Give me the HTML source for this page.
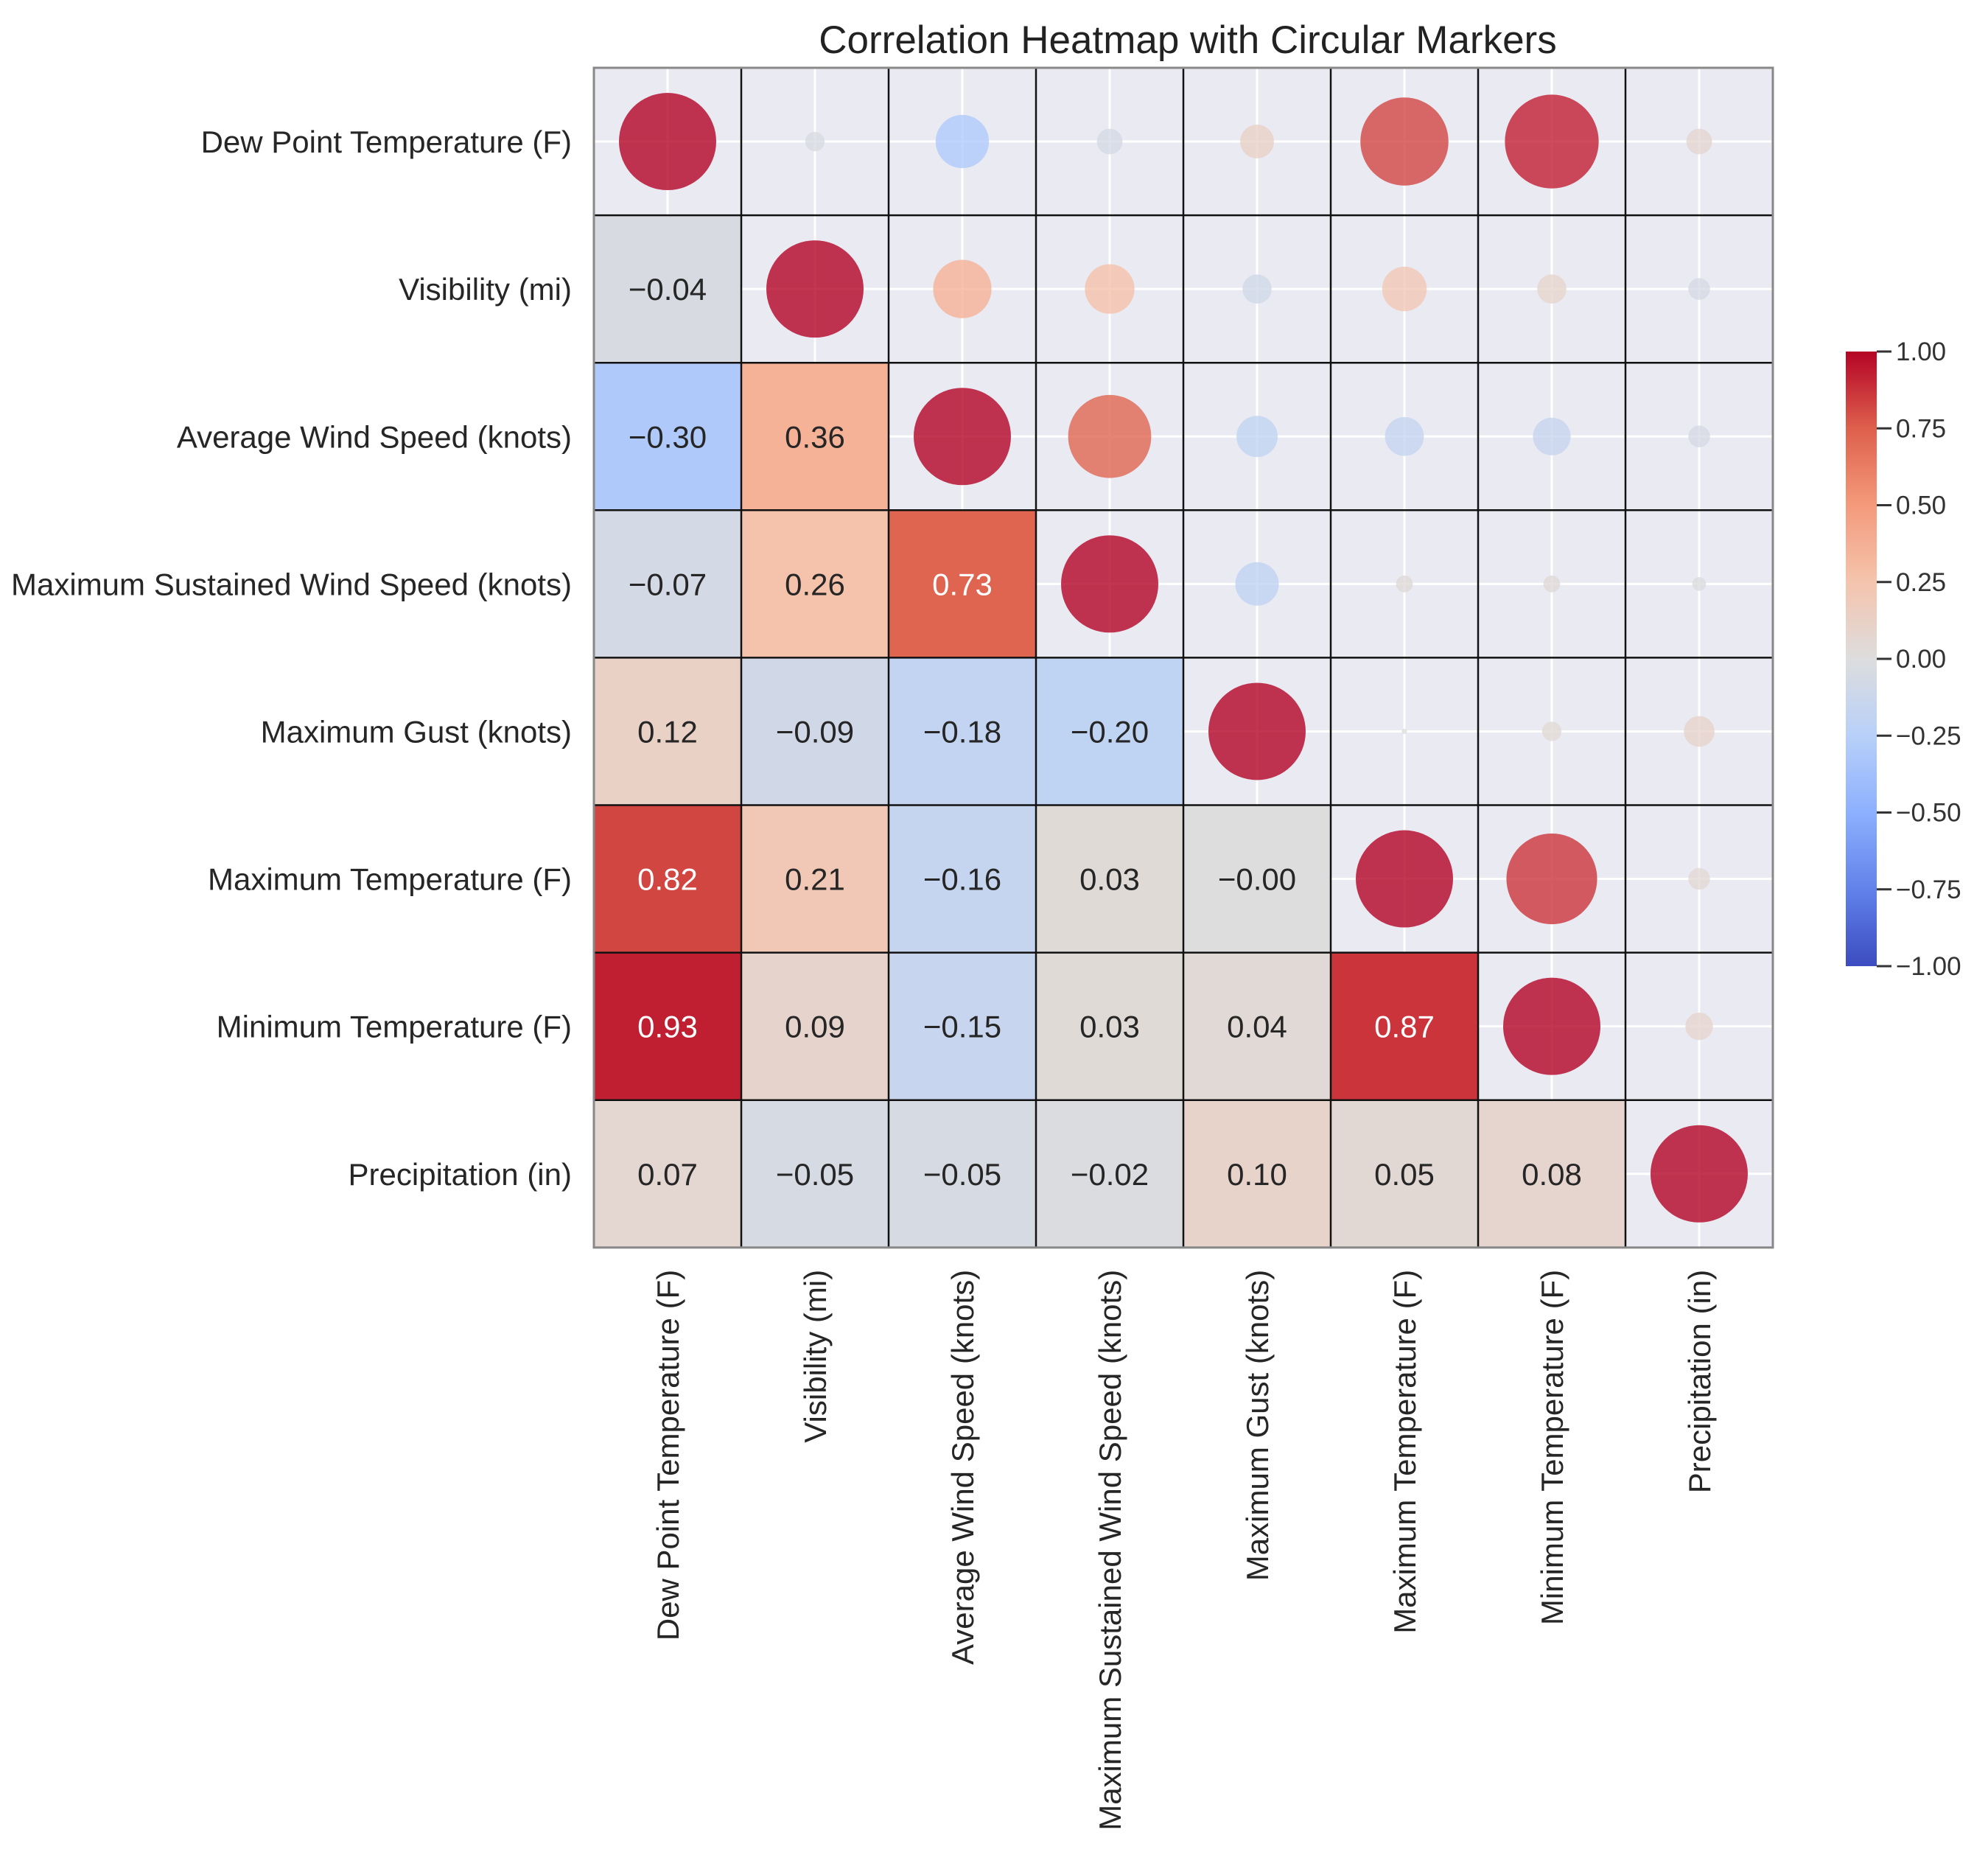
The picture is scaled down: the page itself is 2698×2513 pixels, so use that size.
<!DOCTYPE html>
<html><head><meta charset="utf-8"><style>
html,body{margin:0;padding:0;background:#fff;}
svg{display:block;font-family:"Liberation Sans",Arial,sans-serif;}
</style></head><body>
<svg id="chart" width="2698" height="2513" viewBox="0 0 2698 2513" xmlns="http://www.w3.org/2000/svg">
<rect width="2698" height="2513" fill="#fff"/>
<text x="1612" y="72" font-size="53" text-anchor="middle" fill="#222">Correlation Heatmap with Circular Markers</text>
<g id="plot"></g>
<g id="cbar"></g>
</svg>
<script>
const labels = ["Dew Point Temperature (F)","Visibility (mi)","Average Wind Speed (knots)","Maximum Sustained Wind Speed (knots)","Maximum Gust (knots)","Maximum Temperature (F)","Minimum Temperature (F)","Precipitation (in)"];
const lowerValues = [
  [],
  [-0.04],
  [-0.30,0.36],
  [-0.07,0.26,0.73],
  [0.12,-0.09,-0.18,-0.20],
  [0.82,0.21,-0.16,0.03,-0.003],
  [0.93,0.09,-0.15,0.03,0.04,0.87],
  [0.07,-0.05,-0.05,-0.02,0.10,0.05,0.08]
];
const cbarTicks = [1.00,0.75,0.50,0.25,0.00,-0.25,-0.50,-0.75,-1.00];

const NS="http://www.w3.org/2000/svg";
const X0=806,Y0=92,CW=200.0,CH=200.1,N=labels.length,RMAX=66;
const xPos=j=>X0+j*CW, yPos=i=>Y0+i*CH;
const cmapPts=[[-1,[59,76,192]],[-0.75,[98,130,234]],[-0.5,[141,176,254]],[-0.25,[184,208,249]],[0,[221,221,221]],[0.25,[245,196,173]],[0.5,[244,154,123]],[0.75,[222,96,77]],[1,[180,4,38]]];
function cmap(v){v=Math.max(-1,Math.min(1,v));for(let k=0;k<cmapPts.length-1;k++){const[a,ca]=cmapPts[k],[b,cb]=cmapPts[k+1];if(v<=b){const t=(v-a)/(b-a);return`rgb(${ca.map((c,q)=>Math.round(c+(cb[q]-c)*t)).join(',')})`;}}return'rgb(180,4,38)';}
function mk(tag,attrs,parent){const e=document.createElementNS(NS,tag);for(const k in attrs)e.setAttribute(k,attrs[k]);parent.appendChild(e);return e;}
function val(i,j){if(i===j)return 1;return i>j?lowerValues[i][j]:lowerValues[j][i];}
const plot=document.getElementById('plot');
const bg=mk('rect',{x:X0,y:Y0,width:CW*N,height:CH*N,fill:'#eaeaf2'},plot);


for(let k=0;k<N;k++){
  const gv=mk('line',{x1:xPos(k)+CW/2,x2:xPos(k)+CW/2,y1:Y0,y2:Y0+CH*N,stroke:'#fff',"stroke-width":3},plot);
  
  
  const gh=mk('line',{y1:yPos(k)+CH/2,y2:yPos(k)+CH/2,x1:X0,x2:X0+CW*N,stroke:'#fff',"stroke-width":3},plot);
  
  
}
for(let i=0;i<N;i++){for(let j=0;j<N;j++){
  const v=val(i,j);
  if(i>j){
    const r=mk('rect',{x:xPos(j),y:yPos(i),width:CW,height:CH,fill:cmap(v)},plot);
    
    
    const t=mk('text',{x:xPos(j)+CW/2,y:yPos(i)+CH/2+15,"font-size":42,"text-anchor":"middle",fill:Math.abs(v)>0.6?'#fff':'#262626'},plot);
    t.textContent=(v<0?'\u2212':'')+Math.abs(v).toFixed(2);
    
    
  }else{
    const rad=Math.max(3,RMAX*Math.sqrt(Math.abs(v)));
    const c=mk('circle',{cx:xPos(j)+CW/2,cy:yPos(i)+CH/2,r:rad,fill:cmap(v),"fill-opacity":0.8},plot);
    
    
  }
}}
for(let k=1;k<N;k++){
  const lv=mk('line',{x1:xPos(k),x2:xPos(k),y1:Y0,y2:Y0+CH*N,stroke:'#111',"stroke-width":2.5},plot);
  
  
  const lh=mk('line',{y1:yPos(k),y2:yPos(k),x1:X0,x2:X0+CW*N,stroke:'#111',"stroke-width":2.5},plot);
  
  
}
const fr=mk('rect',{x:X0,y:Y0,width:CW*N,height:CH*N,fill:'none',stroke:'#888',"stroke-width":3},plot);


for(let k=0;k<N;k++){
  const yl=mk('text',{x:X0-30,y:yPos(k)+CH/2+15,"font-size":42,"text-anchor":"end",fill:'#262626'},plot);
  yl.textContent=labels[k];
  
  
  const cx=xPos(k)+CW/2+15, cy=Y0+CH*N+30;
  const xl=mk('text',{x:cx,y:cy,"font-size":42,"text-anchor":"end",fill:'#262626',transform:`rotate(-90 ${cx} ${cy})`},plot);
  xl.textContent=labels[k];
  
  
}
const cb=document.getElementById('cbar');
const CBX=2505,CBW=42,CBT=477,CBB=1311;
const defs=mk('defs',{},cb);
const grad=mk('linearGradient',{id:'cg',x1:0,y1:1,x2:0,y2:0},defs);
cmapPts.forEach(([v])=>mk('stop',{offset:((v+1)/2*100)+'%','stop-color':cmap(v)},grad));
const cbr=mk('rect',{x:CBX,y:CBT,width:CBW,height:CBB-CBT,fill:'url(#cg)'},cb);


const cyPos=v=>CBB-(v+1)/2*(CBB-CBT);
cbarTicks.forEach(v=>{
  const y=cyPos(v);
  const tl=mk('line',{x1:CBX+CBW,x2:CBX+CBW+20,y1:y,y2:y,stroke:'#333',"stroke-width":3},cb);
  
  
  const tt=mk('text',{x:CBX+CBW+26,y:y+12,"font-size":35,fill:'#333'},cb);
  tt.textContent=(v<0?'\u2212':'')+Math.abs(v).toFixed(2);
  
  
});
</script>
</body></html>
